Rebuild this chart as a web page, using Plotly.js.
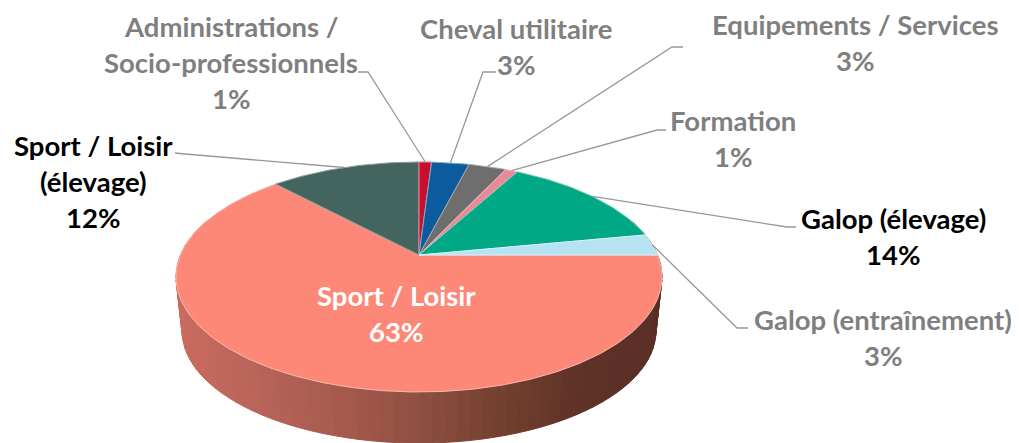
<!DOCTYPE html>
<html><head><meta charset="utf-8">
<script src="https://cdn.plot.ly/plotly-3.0.1.min.js"></script>
<style>html,body{margin:0;padding:0;background:#fff}#c{width:1019px;height:443px}</style>
</head><body><div id="c"></div>
<script>
const categories=["Sport / Loisir","Sport / Loisir (élevage)","Administrations / Socio-professionnels","Cheval utilitaire","Equipements / Services","Formation","Galop (élevage)","Galop (entraînement)"];
const values=[63,12,1,3,3,1,14,3];
const sliceColors=["#fd8878","#44655f","#c8102e","#0b5b9e","#6e6e6e","#ea8a96","#00a886","#b5e3f2"];
const edgeColors=["#f8b8ac","#8aa09c","#e08a96","#7fa8cc","#a8a8a8","#f2bcc4","#7fd0c0","#d8f0f8"];
const labelLines=[["Sport / Loisir","63%"],["Sport / Loisir","(élevage)","12%"],["Administrations /","Socio-professionnels","1%"],["Cheval utilitaire","3%"],["Equipements / Services","3%"],["Formation","1%"],["Galop (élevage)","14%"],["Galop (entraînement)","3%"]];
const labelX=[396,93,231,516,855,733,893,883];
const labelTopY=[295,145,26,28,24,120,218,319];
const labelColors=["#ffffff","#000000","#7f7f7f","#7f7f7f","#7f7f7f","#7f7f7f","#000000","#7f7f7f"];
const leaderElbows=[null,[[175,153],[185,154]],[[358,72],[368,72]],[[496,72],[483,72]],[[683,47],[672,47]],[[666,130],[657,130]],[[796,227],[787,227]],[[748,328],[737,328]]];
const wallStops=[[176,"#c96b5d"],[260,"#b8635a"],[340,"#a65a4c"],[420,"#8e4f42"],[500,"#74402f"],[580,"#5f3228"],[662,"#5a2e26"]];

// projection of the tilted disc
const CX=419,CY=255,A=238.5,B=110.8,K=0.191,WALL=54,BOTTOM_SCALE=0.975;
function proj(deg,r=1,dy=0,s=1){const t=deg*Math.PI/180,u=r*Math.sin(t),v=r*Math.cos(t),w=1+K*v;
  return [CX+s*A*u/w, CY+dy-s*B*v/w+(s-1)*-22];}
function hex(c){return [1,3,5].map(i=>parseInt(c.substr(i,2),16));}
function wallColor(x){for(let i=1;i<wallStops.length;i++){if(x<=wallStops[i][0]){const a=wallStops[i-1],b=wallStops[i],f=Math.max(0,(x-a[0])/(b[0]-a[0]));
  const p=hex(a[1]),q=hex(b[1]);return "rgb("+p.map((c,j)=>Math.round(c+(q[j]-c)*f)).join(",")+")";}}return wallStops[wallStops.length-1][1];}

const traces=[];
// side wall
const W0=70,W1=290,WS=2.5;
for(let d=W0;d<W1;d+=WS){
  const a=proj(d),b=proj(d+WS),c=proj(d+WS,1,WALL,BOTTOM_SCALE),e=proj(d,1,WALL,BOTTOM_SCALE);
  const col=wallColor((a[0]+b[0])/2);
  traces.push({type:"scatter",mode:"lines",x:[a[0],b[0],c[0],e[0],a[0]],y:[a[1],b[1],c[1],e[1],a[1]],fill:"toself",fillcolor:col,line:{color:col,width:1},hoverinfo:"skip",showlegend:false});
}
// top face, clockwise from 3 o'clock
const total=values.reduce((p,q)=>p+q,0);
let ang=90;const mids=[];
values.forEach((v,i)=>{
  const sweep=v/total*360,xs=[CX],ys=[CY];
  for(let k=0;k<=Math.ceil(sweep);k++){const p=proj(ang+sweep*k/Math.ceil(sweep));xs.push(p[0]);ys.push(p[1]);}
  xs.push(CX);ys.push(CY);
  traces.push({type:"scatter",mode:"lines",name:categories[i],x:xs,y:ys,fill:"toself",fillcolor:sliceColors[i],line:{color:edgeColors[i],width:1},text:categories[i]+": "+v+"%",hoverinfo:"text",showlegend:false});
  mids.push(ang+sweep/2);ang+=sweep;
});
// leader lines
leaderElbows.forEach((el,i)=>{ if(!el) return; const p=proj(mids[i]);
  traces.push({type:"scatter",mode:"lines",x:[el[0][0],el[1][0],p[0]],y:[el[0][1],el[1][1],p[1]],line:{color:"#989898",width:1.3},hoverinfo:"skip",showlegend:false});
});
const LH=36;
const annotations=[];
labelLines.forEach((ls,i)=>ls.forEach((t,j)=>annotations.push({x:labelX[i],y:labelTopY[i]+j*LH,xref:"x",yref:"y",text:t,showarrow:false,xanchor:"center",yanchor:"middle",font:{family:"Lato, Carlito, sans-serif",size:27.5,color:labelColors[i],weight:700}})));
const hidden={visible:false,fixedrange:true};
Plotly.newPlot("c",traces,{width:1019,height:443,margin:{l:0,r:0,t:0,b:0},paper_bgcolor:"#fff",plot_bgcolor:"#fff",
  xaxis:{...hidden,range:[0,1019]},yaxis:{...hidden,range:[443,0]},annotations,showlegend:false},{displayModeBar:false,staticPlot:true});
</script></body></html>
